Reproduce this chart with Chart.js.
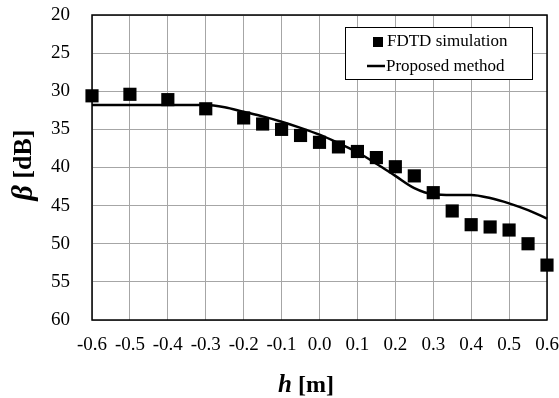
<!DOCTYPE html>
<html>
<head>
<meta charset="utf-8">
<script src="https://cdn.jsdelivr.net/npm/chart.js@4/dist/chart.umd.min.js"></script>
<style>
    html, body { margin: 0; padding: 0; background: #fff; }
    #wrap { width: 559px; height: 398px; }
</style>
</head>
<body>
<div id="wrap"><canvas id="myChart" width="559" height="398"></canvas></div>
<script>
// FDTD simulation points
var hSim = [-0.6, -0.5, -0.4, -0.3, -0.2, -0.15, -0.1, -0.05, 0.0, 0.05, 0.1, 0.15, 0.2, 0.25, 0.3, 0.35, 0.4, 0.45, 0.5, 0.55, 0.6];
var betaSim = [30.6, 30.4, 31.1, 32.3, 33.5, 34.3, 35.0, 35.8, 36.7, 37.3, 37.9, 38.7, 39.9, 41.1, 43.3, 45.7, 47.5, 47.8, 48.2, 50.0, 52.8];

// proposed method curve
var hLine = [-0.6, -0.55, -0.5, -0.45, -0.4, -0.35, -0.3, -0.25, -0.2, -0.15, -0.1, -0.05, 0.0, 0.05, 0.1, 0.15, 0.2, 0.25, 0.3, 0.35, 0.4, 0.45, 0.5, 0.55, 0.6];
var betaLine = [31.8, 31.8, 31.8, 31.8, 31.8, 31.8, 31.8, 32.1, 32.7, 33.3, 34.0, 34.8, 35.7, 36.8, 38.0, 39.5, 41.1, 42.7, 43.5, 43.6, 43.6, 44.0, 44.7, 45.6, 46.7];

var seriesNames = ['FDTD simulation', 'Proposed method'];
var yTitle = ['\u03B2', ' [dB]'];
var xTitle = ['h', ' [m]'];

var serif = '"Liberation Serif", "Times New Roman", serif';

function toPoints(xs, ys) {
    return xs.map(function(x, i) { return { x: x, y: ys[i] }; });
}

// border, axis titles and legend box
var extras = {
    id: 'extras',
    afterDraw: function(chart) {
        var ctx = chart.ctx;
        var a = chart.chartArea;
        ctx.save();
        ctx.strokeStyle = '#000';
        ctx.lineWidth = 1.5;
        ctx.strokeRect(a.left, a.top, a.right - a.left, a.bottom - a.top);

        // y title (rotated)
        ctx.fillStyle = '#000';
        ctx.textBaseline = 'middle';
        ctx.translate(24, 165);
        ctx.rotate(-Math.PI / 2);
        ctx.font = 'italic bold 30px ' + serif;
        var w1 = ctx.measureText(yTitle[0]).width;
        ctx.font = 'bold 26px ' + serif;
        var w2 = ctx.measureText(yTitle[1]).width;
        var sx = -(w1 + w2) / 2;
        ctx.textAlign = 'left';
        ctx.font = 'italic bold 30px ' + serif;
        ctx.fillText(yTitle[0], sx, 0);
        ctx.font = 'bold 26px ' + serif;
        ctx.fillText(yTitle[1], sx + w1, 0);
        ctx.setTransform(1, 0, 0, 1, 0, 0);

        // x title
        ctx.textBaseline = 'alphabetic';
        ctx.font = 'italic bold 25px ' + serif;
        var v1 = ctx.measureText(xTitle[0]).width;
        ctx.font = 'bold 24px ' + serif;
        var v2 = ctx.measureText(xTitle[1]).width;
        var tx = 306 - (v1 + v2) / 2;
        ctx.font = 'italic bold 25px ' + serif;
        ctx.fillText(xTitle[0], tx, 392);
        ctx.font = 'bold 24px ' + serif;
        ctx.fillText(xTitle[1], tx + v1, 392);

        // legend
        ctx.fillStyle = '#fff';
        ctx.fillRect(345, 27, 187, 52);
        ctx.strokeStyle = '#000';
        ctx.lineWidth = 1;
        ctx.strokeRect(345.5, 27.5, 187, 52);
        ctx.fillStyle = '#000';
        ctx.fillRect(373, 37, 10, 10);
        ctx.lineWidth = 2.5;
        ctx.beginPath();
        ctx.moveTo(367, 66);
        ctx.lineTo(385, 66);
        ctx.stroke();
        ctx.font = '17px ' + serif;
        ctx.textAlign = 'left';
        ctx.textBaseline = 'middle';
        ctx.fillText(seriesNames[0], 387, 42);
        ctx.fillText(seriesNames[1], 386, 67);
        ctx.restore();
    }
};

const ctx = document.getElementById('myChart');

new Chart(ctx, {
    type: 'scatter',
    data: {
        datasets: [{
            label: seriesNames[1],
            data: toPoints(hLine, betaLine),
            showLine: true,
            borderColor: '#000',
            borderWidth: 2.5,
            pointRadius: 0,
            cubicInterpolationMode: 'monotone',
            clip: false,
            order: 2
        }, {
            label: seriesNames[0],
            data: toPoints(hSim, betaSim),
            showLine: false,
            pointStyle: 'rect',
            pointRadius: 9.3,
            backgroundColor: '#000',
            borderColor: '#000',
            borderWidth: 0,
            clip: false,
            order: 1
        }]
    },
    options: {
        responsive: false,
        animation: false,
        layout: { padding: { top: 15, right: 12, left: 0, bottom: 0 } },
        plugins: {
            legend: { display: false },
            tooltip: { enabled: false }
        },
        scales: {
            x: {
                type: 'linear',
                min: -0.6,
                max: 0.6,
                grid: { color: '#a6a6a6', lineWidth: 1, drawTicks: false },
                border: { display: false },
                ticks: {
                    stepSize: 0.1,
                    padding: 14,
                    color: '#000',
                    font: { family: serif, size: 19 },
                    maxRotation: 0,
                    autoSkip: false,
                    callback: function(v) {
                        if (Math.abs(v) < 1e-9) return '0.0';
                        return v.toFixed(1);
                    }
                },
                afterFit: function(scale) {
                    scale.height = 78;
                    scale.paddingLeft = 0;
                    scale.paddingRight = 0;
                }
            },
            y: {
                reverse: true,
                min: 20,
                max: 60,
                grid: { color: '#a6a6a6', lineWidth: 1, drawTicks: false },
                border: { display: false },
                ticks: {
                    stepSize: 5,
                    padding: 22,
                    color: '#000',
                    font: { family: serif, size: 19 }
                },
                afterFit: function(scale) {
                    scale.width = 92;
                    scale.paddingTop = 0;
                    scale.paddingBottom = 0;
                }
            }
        }
    },
    plugins: [extras]
});
</script>
</body>
</html>
